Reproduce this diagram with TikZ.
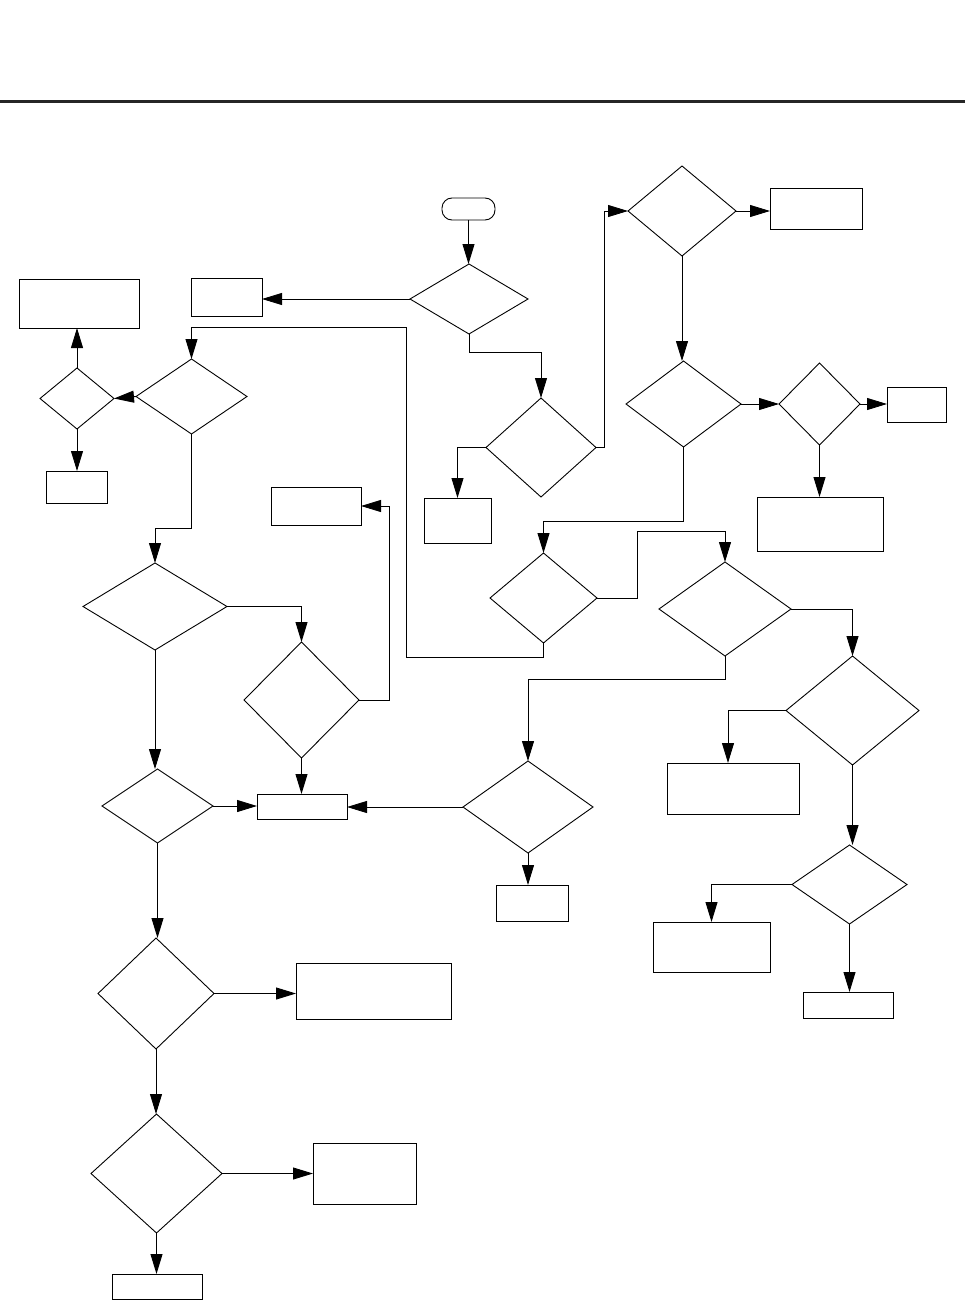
\documentclass[tikz,border=0pt]{standalone}
\usetikzlibrary{arrows.meta,shapes.geometric,calc}
\begin{document}
\begin{tikzpicture}[x=1pt,y=-1pt,
  every node/.style={inner sep=0pt,outer sep=0pt},
  dec/.style={draw,shape=diamond,line width=0.9pt},
  box/.style={draw,rectangle,line width=0.9pt},
  term/.style={draw,rectangle,rounded corners=10pt,line width=0.9pt},
  arr/.style={line width=0.9pt,-{Triangle[length=20pt,width=12pt]}},
  ln/.style={line width=0.9pt}]
\useasboundingbox (0,0) rectangle (965,1300);
\draw[line width=2.2pt,black!85] (0,101.5) -- (965,101.5);
% terminator
\node[term,minimum width=53pt,minimum height=22pt] (start) at (468.5,209) {};
% decisions
\node[dec,minimum width=118pt,minimum height=70pt] (d1) at (469,299) {};
\node[dec,minimum width=110pt,minimum height=99pt] (d2) at (541,447.5) {};
\node[dec,minimum width=108pt,minimum height=90pt] (d3) at (682,211) {};
\node[dec,minimum width=115pt,minimum height=86pt] (d4) at (683.5,404) {};
\node[dec,minimum width=81pt,minimum height=82pt] (d5) at (819.5,404) {};
\node[dec,minimum width=107pt,minimum height=90pt] (d6) at (543.5,598) {};
\node[dec,minimum width=132pt,minimum height=94pt] (d7) at (725,609) {};
\node[dec,minimum width=111pt,minimum height=75pt] (d8) at (191.5,396.5) {};
\node[dec,minimum width=74pt,minimum height=61pt] (d9) at (77,398.5) {};
\node[dec,minimum width=144pt,minimum height=87pt] (d10) at (155,606.5) {};
\node[dec,minimum width=115pt,minimum height=116pt] (d11) at (301.5,700) {};
\node[dec,minimum width=111pt,minimum height=74pt] (d12) at (157.5,806) {};
\node[dec,minimum width=130pt,minimum height=92pt] (d13) at (528,807) {};
\node[dec,minimum width=133pt,minimum height=109pt] (d14) at (852.5,710.5) {};
\node[dec,minimum width=115pt,minimum height=79pt] (d15) at (849.5,884.5) {};
\node[dec,minimum width=116pt,minimum height=111pt] (d16) at (156,993.5) {};
\node[dec,minimum width=131pt,minimum height=119pt] (d17) at (156.5,1173.5) {};
% boxes
\node[box,minimum width=71pt,minimum height=38pt] (b1) at (226.5,297) {};
\node[box,minimum width=67pt,minimum height=45pt] (b2) at (457.5,520.5) {};
\node[box,minimum width=92pt,minimum height=41pt] (b3) at (816,208.5) {};
\node[box,minimum width=59pt,minimum height=35pt] (b4) at (916.5,404.5) {};
\node[box,minimum width=126pt,minimum height=54pt] (b5) at (820,524) {};
\node[box,minimum width=120pt,minimum height=49pt] (b6) at (79,303.5) {};
\node[box,minimum width=61pt,minimum height=32pt] (b7) at (76.5,487) {};
\node[box,minimum width=90pt,minimum height=38pt] (b8) at (316,506) {};
\node[box,minimum width=90pt,minimum height=25pt] (b9) at (302,806.5) {};
\node[box,minimum width=72pt,minimum height=36pt] (b10) at (532,903) {};
\node[box,minimum width=132pt,minimum height=51pt] (b11) at (733,788.5) {};
\node[box,minimum width=117pt,minimum height=50pt] (b12) at (711.5,947) {};
\node[box,minimum width=90pt,minimum height=26pt] (b13) at (848,1005) {};
\node[box,minimum width=155pt,minimum height=56pt] (b14) at (373.5,991) {};
\node[box,minimum width=103pt,minimum height=61pt] (b15) at (364.5,1173.5) {};
\node[box,minimum width=90pt,minimum height=25pt] (b16) at (157,1286.5) {};
% junctions
\coordinate (j1) at (637,531);
\coordinate (j2) at (406,657);
\coordinate (j3) at (406,327);
% connectors
\draw[arr] (start.south) -- (start.south |- d1.north);
\draw[arr] (d1.west) -- (d1.west -| b1.east);
\draw[arr] (d1.south) -- ++(0,18) -| (d2.north);
\draw[arr] (d2.west) -| (b2.north);
\draw[arr] (d2.east) -- ++(8,0) |- (d3.west);
\draw[arr] (d3.east) -- (d3.east -| b3.west);
\draw[arr] (d3.south) -- (d3.south |- d4.north);
\draw[arr] (d4.east) -- (d5.west);
\draw[arr] (d5.east) -- (d5.east -| b4.west);
\draw[arr] (d5.south) -- (d5.south |- b5.north);
\draw[arr] (d4.south) -- ++(0,74) -| (d6.north);
\draw[arr] (d6.east) -| (j1) -| (d7.north);
\draw[arr] (d6.south) |- (j2) -- (j3) -| (d8.north);
\draw[arr] (d8.west) -- (d9.east);
\draw[arr] (d9.north) -- (d9.north |- b6.south);
\draw[arr] (d9.south) -- (d9.south |- b7.north);
\draw[arr] (d8.south) -- ++(0,94) -| (d10.north);
\draw[arr] (d10.east) -| (d11.north);
\draw[arr] (d11.east) -- ++(30,0) |- (b8.east);
\draw[arr] (d11.south) -- (d11.south |- b9.north);
\draw[arr] (d10.south) -- (d10.south |- d12.north);
\draw[arr] (d12.east) -- (d12.east -| b9.west);
\draw[arr] (d7.south) -- ++(0,23) -| (d13.north);
\draw[arr] (d13.west) -- (d13.west -| b9.east);
\draw[arr] (d13.south) -- (d13.south |- b10.north);
\draw[arr] (d7.east) -| (d14.north);
\draw[arr] (d14.west) -| ($(b11.north)+(-5,0)$);
\draw[arr] (d14.south) -- (d14.south |- d15.north);
\draw[arr] (d15.west) -| (b12.north);
\draw[arr] (d15.south) -- (d15.south |- b13.north);
\draw[arr] (d12.south) -- (d12.south |- d16.north);
\draw[arr] (d16.east) -- (d16.east -| b14.west);
\draw[arr] (d16.south) -- (d16.south |- d17.north);
\draw[arr] (d17.east) -- (d17.east -| b15.west);
\draw[arr] (d17.south) -- (d17.south |- b16.north);
\end{tikzpicture}
\end{document}
